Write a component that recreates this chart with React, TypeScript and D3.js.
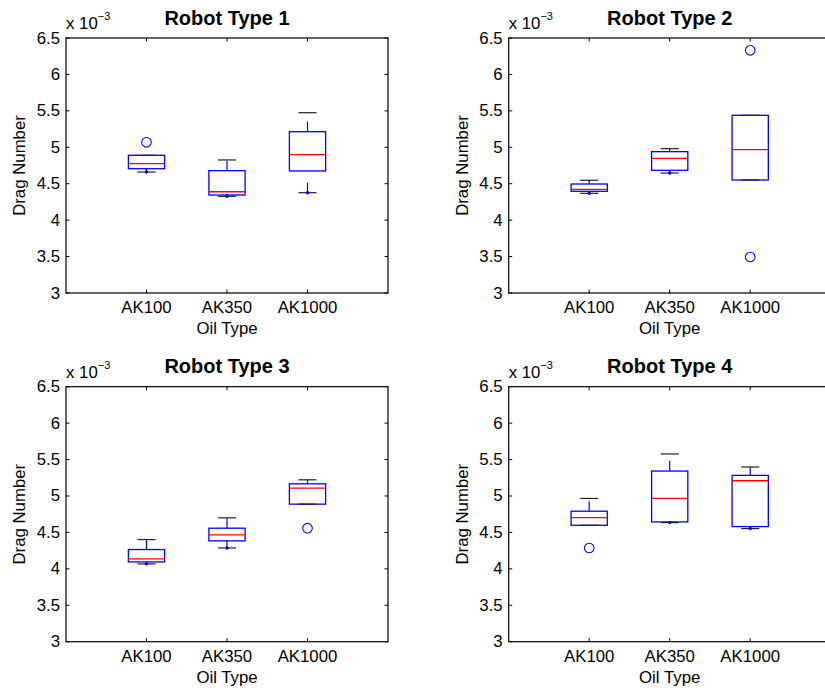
import React from "react";
import * as d3 from "d3";

// Data (values in units of 10^-3)
const categories = ["AK100", "AK350", "AK1000"];
const titles = ["Robot Type 1", "Robot Type 2", "Robot Type 3", "Robot Type 4"];
const yTicks = [3, 3.5, 4, 4.5, 5, 5.5, 6, 6.5];
const yTickLabels = ["3", "3.5", "4", "4.5", "5", "5.5", "6", "6.5"];
const lowerWhisker = [
  [4.66, 4.327, 4.377],
  [4.368, 4.647, 4.551],
  [4.068, 4.287, 4.888],
  [4.598, 4.635, 4.553],
];
const q1 = [
  [4.706, 4.345, 4.675],
  [4.396, 4.684, 4.551],
  [4.095, 4.384, 4.888],
  [4.598, 4.644, 4.58],
];
const medians = [
  [4.775, 4.39, 4.899],
  [4.423, 4.849, 4.967],
  [4.136, 4.466, 5.107],
  [4.704, 4.966, 5.209],
];
const q3 = [
  [4.89, 4.679, 5.214],
  [4.496, 4.94, 5.439],
  [4.265, 4.558, 5.167],
  [4.791, 5.342, 5.283],
];
const upperWhisker = [
  [4.89, 4.826, 5.475],
  [4.547, 4.981, 5.439],
  [4.402, 4.7, 5.222],
  [4.966, 5.577, 5.398],
];
const outliers = [
  [[5.068], [], []],
  [[], [], [6.331, 3.494]],
  [[], [], [4.558]],
  [[4.286], [], []],
];

const FONT = "'Liberation Sans', Arial, Helvetica, sans-serif";
const W = 825;
const H = 691;
const lefts = [66, 508.7];
const tops = [38, 386.7];
const PW = 322;
const PH = 255;
const BLUE = "#0000ff";
const RED = "#ff0000";

function Panel({ p }: { p: number }) {
  const col = p % 2;
  const row = Math.floor(p / 2);
  const left = lefts[col];
  const top = tops[row];
  const x = d3.scaleLinear().domain([0, 4]).range([left, left + PW]);
  const y = d3.scaleLinear().domain([3, 6.5]).range([top + PH, top]);
  const boxHalf = 0.225;
  const capHalf = 0.1125;
  const tickLen = 3.5;
  const xTickPos = categories.map((_, i) => i + 1);
  const cx = (left + left + PW) / 2;

  return (
    <g>
      {/* title */}
      <text x={cx} y={top - 13.5} textAnchor="middle" fontFamily={FONT} fontWeight="bold" fontSize={20}>
        {titles[p]}
      </text>
      {/* exponent label */}
      <text x={left} y={top - 8.7} fontFamily={FONT} fontSize={16.8}>
        x 10
        <tspan fontSize={11} dy={-9.5}>−3</tspan>
      </text>
      {/* frame */}
      <rect x={left} y={top} width={PW} height={PH} fill="white" stroke="black" strokeWidth={1.2} />
      {/* y ticks */}
      {yTicks.map((t, i) => (
        <g key={"y" + i}>
          <line x1={left} x2={left + tickLen} y1={y(t)} y2={y(t)} stroke="black" strokeWidth={1} />
          <line x1={left + PW} x2={left + PW - tickLen} y1={y(t)} y2={y(t)} stroke="black" strokeWidth={1} />
          <text x={left - 6} y={y(t)} textAnchor="end" dominantBaseline="central" fontFamily={FONT} fontSize={16.8}>
            {yTickLabels[i]}
          </text>
        </g>
      ))}
      {/* x ticks */}
      {xTickPos.map((t, i) => (
        <g key={"x" + i}>
          <line x1={x(t)} x2={x(t)} y1={top + PH} y2={top + PH - tickLen} stroke="black" strokeWidth={1} />
          <line x1={x(t)} x2={x(t)} y1={top} y2={top + tickLen} stroke="black" strokeWidth={1} />
          <text x={x(t)} y={top + PH + 20.3} textAnchor="middle" fontFamily={FONT} fontSize={16.8}>
            {categories[i]}
          </text>
        </g>
      ))}
      {/* axis labels */}
      <text x={cx} y={top + PH + 41} textAnchor="middle" fontFamily={FONT} fontSize={16.8}>
        Oil Type
      </text>
      <text
        transform={`translate(${left - 41},${top + PH / 2}) rotate(-90)`}
        textAnchor="middle"
        fontFamily={FONT}
        fontSize={16.8}
      >
        Drag Number
      </text>
      {/* boxes */}
      {categories.map((_, i) => {
        const c = i + 1;
        const lw = lowerWhisker[p][i];
        const uw = upperWhisker[p][i];
        const b1 = q1[p][i];
        const b3 = q3[p][i];
        const md = medians[p][i];
        return (
          <g key={"b" + i}>
            {/* whiskers (dashed, drawn from lower value upward) */}
            <line x1={x(c)} x2={x(c)} y1={y(lw)} y2={y(b1)} stroke={BLUE} strokeWidth={1.2} strokeDasharray="10,12" />
            <line x1={x(c)} x2={x(c)} y1={y(b3)} y2={y(uw)} stroke={BLUE} strokeWidth={1.2} strokeDasharray="10,12" />
            {/* box */}
            <rect
              x={x(c - boxHalf)}
              y={y(b3)}
              width={x(c + boxHalf) - x(c - boxHalf)}
              height={y(b1) - y(b3)}
              fill="none"
              stroke={BLUE}
              strokeWidth={1.3}
            />
            {/* caps */}
            <line x1={x(c - capHalf)} x2={x(c + capHalf)} y1={y(lw)} y2={y(lw)} stroke="#222" strokeWidth={1.2} />
            <line x1={x(c - capHalf)} x2={x(c + capHalf)} y1={y(uw)} y2={y(uw)} stroke="#222" strokeWidth={1.2} />
            {lw < b1 && <circle cx={x(c)} cy={y(lw)} r={1.7} fill={BLUE} />}
            {/* median */}
            <line x1={x(c - boxHalf)} x2={x(c + boxHalf)} y1={y(md)} y2={y(md)} stroke={RED} strokeWidth={1.3} />
            {/* outliers */}
            {outliers[p][i].map((o, k) => (
              <circle key={k} cx={x(c)} cy={y(o)} r={4.8} fill="none" stroke={BLUE} strokeWidth={1.1} />
            ))}
          </g>
        );
      })}
    </g>
  );
}

export default function App() {
  return (
    <svg
      width={W}
      height={H}
      viewBox={`0 0 ${W} ${H}`}
      style={{ position: "absolute", left: 0, top: 0, background: "white" }}
    >
      <rect x={0} y={0} width={W} height={H} fill="white" />
      {[0, 1, 2, 3].map((p) => (
        <Panel key={p} p={p} />
      ))}
    </svg>
  );
}
